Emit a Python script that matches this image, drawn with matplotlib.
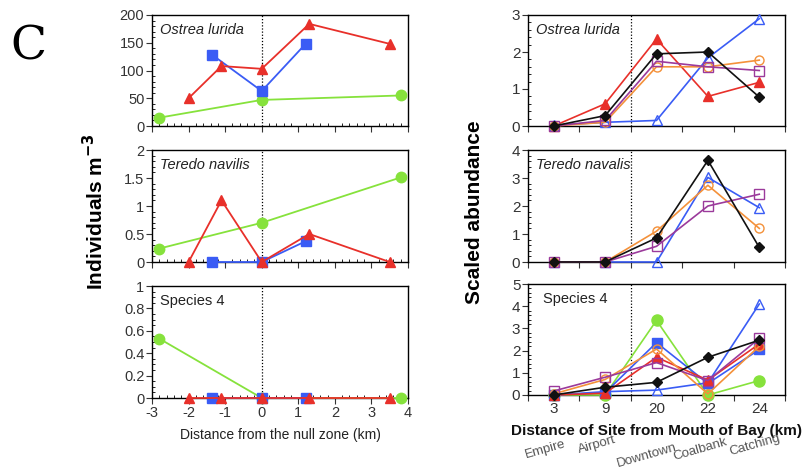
import matplotlib
matplotlib.use("Agg")
import matplotlib.pyplot as plt
from matplotlib.ticker import MultipleLocator, FixedLocator, NullFormatter, FormatStrFormatter

plt.rcParams['font.family'] = ['Liberation Sans', 'DejaVu Sans']
plt.rcParams['axes.unicode_minus'] = False

# ---------------- data: left column (distance from null zone) ----------------
red_x = [-2.0, -1.1, 0.0, 1.3, 3.5]
blue_x = [-1.35, 0.0, 1.2]
green_x = [-2.8, 0.0, 3.8]

ostrea_red = [50, 108, 103, 184, 148]
ostrea_blue = [128, 63, 148]
ostrea_green = [15, 47, 55]

teredo_red = [0, 1.1, 0, 0.5, 0]
teredo_blue = [0, 0, 0.37]
teredo_green = [0.24, 0.70, 1.51]

sp4_red = [0, 0, 0, 0, 0]
sp4_blue = [0, 0, 0]
sp4_green = [0.53, 0, 0]

# ---------------- data: right column (sites) ----------------
site_km = ["3", "9", "20", "22", "24"]
site_names = ["Empire", "Airport", "Downtown", "Coalbank", "Catching"]

os_red_tri = [0, 0.6, 2.35, 0.8, 1.18]
os_black = [0, 0.28, 1.95, 2.0, 0.78]
os_blue_open = [0.02, 0.1, 0.15, 1.84, 2.9]
os_orange = [0, 0.1, 1.6, 1.6, 1.78]
os_purple = [0, 0.15, 1.75, 1.6, 1.5]

te_black = [0, 0, 0.86, 3.63, 0.52]
te_blue_open = [0, 0, 0, 3.02, 1.94]
te_orange = [0, 0, 1.1, 2.74, 1.2]
te_purple = [0, 0, 0.56, 2.0, 2.42]

s4_green = [0, 0, 3.36, 0, 0.65]
s4_black = [0, 0.35, 0.57, 1.7, 2.47]
s4_blue_open = [0, 0.15, 0.22, 0.55, 4.1]
s4_blue_sq = [0, 0.1, 2.36, 0.52, 2.05]
s4_red = [0, 0.08, 1.7, 0.67, 2.3]
s4_orange = [0.05, 0.7, 2.07, 0.05, 2.2]
s4_purple = [0.18, 0.8, 1.46, 0.65, 2.55]

RED = '#e8302a'
BLUE = '#3a5cf5'
GREEN = '#86e23c'
ORANGE = '#f4913a'
PURPLE = '#9b3a9b'
BLACK = '#111111'
TXT = '#333333'

fig = plt.figure(figsize=(8.06, 4.70), dpi=100)
W, H = 806.0, 470.0

def ax_at(x0, x1, y0, y1):
    return fig.add_axes([x0 / W, 1 - y1 / H, (x1 - x0) / W, (y1 - y0) / H])

rows = [(15, 126), (150, 262), (286, 398)]
rows_r = [(15, 126), (150, 262), (284, 395)]

left_axes = [ax_at(152, 408, *r) for r in rows]
right_axes = [ax_at(528, 785, *r) for r in rows_r]

def style_left(ax, ymax, major, minor, labels_x):
    ax.set_xlim(-3, 4)
    ax.set_ylim(0, ymax)
    ax.xaxis.set_major_locator(MultipleLocator(1))
    ax.xaxis.set_minor_locator(MultipleLocator(0.2))
    ax.yaxis.set_major_locator(MultipleLocator(major))
    ax.yaxis.set_minor_locator(MultipleLocator(minor))
    ax.xaxis.set_major_formatter(FormatStrFormatter('%g'))
    ax.yaxis.set_major_formatter(FormatStrFormatter('%g'))
    ax.tick_params(which='major', direction='out', length=4, width=0.8,
                   labelsize=10.5, colors=TXT, pad=1.5)
    ax.tick_params(which='minor', direction='in', length=2.5, width=0.6)
    if not labels_x:
        ax.tick_params(axis='x', labelbottom=False)
    ax.axvline(0, color='black', ls=(0, (1, 1.5)), lw=0.9, zorder=1)
    for s in ax.spines.values():
        s.set_linewidth(1.0)

def style_right(ax, ymax, minor, labels_x):
    ax.set_xlim(0, 5)
    ax.set_ylim(0, ymax)
    ax.xaxis.set_major_locator(FixedLocator([0, 1, 2, 3, 4, 5]))
    ax.xaxis.set_major_formatter(NullFormatter())
    ax.yaxis.set_major_locator(MultipleLocator(1))
    ax.yaxis.set_minor_locator(MultipleLocator(minor))
    ax.yaxis.set_major_formatter(FormatStrFormatter('%g'))
    ax.tick_params(which='major', direction='out', length=4, width=0.8,
                   labelsize=11, colors=TXT, pad=1.5)
    ax.tick_params(axis='y', which='minor', direction='in', length=2.5, width=0.6)
    if labels_x:
        ax.xaxis.set_minor_locator(FixedLocator([0.5, 1.5, 2.5, 3.5, 4.5]))
        ax.set_xticklabels(site_km, minor=True)
        ax.tick_params(axis='x', which='minor', length=0, labelsize=11,
                       colors=TXT, pad=5)
    ax.axvline(2, color='black', ls=(0, (1, 1.5)), lw=0.9, zorder=1)
    for s in ax.spines.values():
        s.set_linewidth(1.0)

ms = 7.5
lw = 1.3

# left panels
left_data = [
    (ostrea_red, ostrea_blue, ostrea_green, 200, 50, 10, 'Ostrea lurida', 'italic'),
    (teredo_red, teredo_blue, teredo_green, 2, 0.5, 0.1, 'Teredo navilis', 'italic'),
    (sp4_red, sp4_blue, sp4_green, 1, 0.2, 0.05, 'Species 4', 'normal'),
]
for i, (ax, (r, b, g, ymax, maj, mino, name, st)) in enumerate(zip(left_axes, left_data)):
    style_left(ax, ymax, maj, mino, i == 2)
    ax.plot(green_x, g, color=GREEN, marker='o', ms=ms, lw=lw, clip_on=False, zorder=3)
    ax.plot(blue_x, b, color=BLUE, marker='s', ms=ms, lw=lw, clip_on=False, zorder=4)
    ax.plot(red_x, r, color=RED, marker='^', ms=ms, lw=lw, clip_on=False, zorder=5)
    ax.text(0.03, 0.93, name, transform=ax.transAxes, fontsize=10.5, style=st,
            color='#222222', va='top', ha='left')

left_axes[2].set_xlabel('Distance from the null zone (km)', fontsize=10, color='#222222',
                        labelpad=6)

# right panels
xp = [0.5, 1.5, 2.5, 3.5, 4.5]
ms2 = 6.5
lw2 = 1.2

def open_line(ax, y, color, marker):
    ax.plot(xp, y, color=color, marker=marker, ms=ms2, lw=lw2, mfc='none',
            mec=color, mew=1.0, clip_on=False, zorder=3)

def filled_line(ax, y, color, marker, size=ms2):
    ax.plot(xp, y, color=color, marker=marker, ms=size, lw=lw2, clip_on=False, zorder=3)

ax = right_axes[0]
style_right(ax, 3, 0.2, False)
filled_line(ax, os_red_tri, RED, '^', 7)
open_line(ax, os_blue_open, BLUE, '^')
open_line(ax, os_orange, ORANGE, 'o')
open_line(ax, os_purple, PURPLE, 's')
filled_line(ax, os_black, BLACK, 'D', 5)
ax.text(0.03, 0.93, 'Ostrea lurida', transform=ax.transAxes, fontsize=10.5, style='italic',
        color='#222222', va='top')

ax = right_axes[1]
style_right(ax, 4, 0.2, False)
open_line(ax, te_blue_open, BLUE, '^')
open_line(ax, te_orange, ORANGE, 'o')
open_line(ax, te_purple, PURPLE, 's')
filled_line(ax, te_black, BLACK, 'D', 5)
ax.text(0.03, 0.93, 'Teredo navalis', transform=ax.transAxes, fontsize=10.5, style='italic',
        color='#222222', va='top')

ax = right_axes[2]
style_right(ax, 5, 0.2, True)
filled_line(ax, s4_green, GREEN, 'o', 8)
open_line(ax, s4_blue_open, BLUE, '^')
filled_line(ax, s4_blue_sq, BLUE, 's', 7)
filled_line(ax, s4_red, RED, '^', 7)
open_line(ax, s4_orange, ORANGE, 'o')
open_line(ax, s4_purple, PURPLE, 's')
filled_line(ax, s4_black, BLACK, 'D', 5)
ax.text(0.06, 0.93, 'Species 4', transform=ax.transAxes, fontsize=10.5,
        color='#222222', va='top')
ax.set_xlabel('Distance of Site from Mouth of Bay (km)', fontsize=11, fontweight='bold',
              color='#111111', labelpad=6)

# rotated site names
name_x = [0.33, 1.34, 2.31, 3.35, 4.42]
name_y = [-0.49, -0.45, -0.55, -0.49, -0.45]
for x, nm, yy in zip(name_x, site_names, name_y):
    ax.text(x, yy, nm, transform=ax.get_xaxis_transform(), rotation=16, fontsize=9.5,
            color='#555555', ha='center', va='center', clip_on=False)

# y labels
fig.text(95 / W, 1 - 212 / H, 'Individuals m$^{\\mathbf{-3}}$', rotation=90, fontsize=15,
         fontweight='bold', ha='center', va='center')
fig.text(475 / W, 1 - 212 / H, 'Scaled abundance', rotation=90, fontsize=15,
         fontweight='bold', ha='center', va='center')

# panel letter
fig.text(28 / W, 1 - 47 / H, 'C', fontsize=34, family='DejaVu Serif', ha='center',
         va='center')

fig.savefig('out.png', dpi=100)
